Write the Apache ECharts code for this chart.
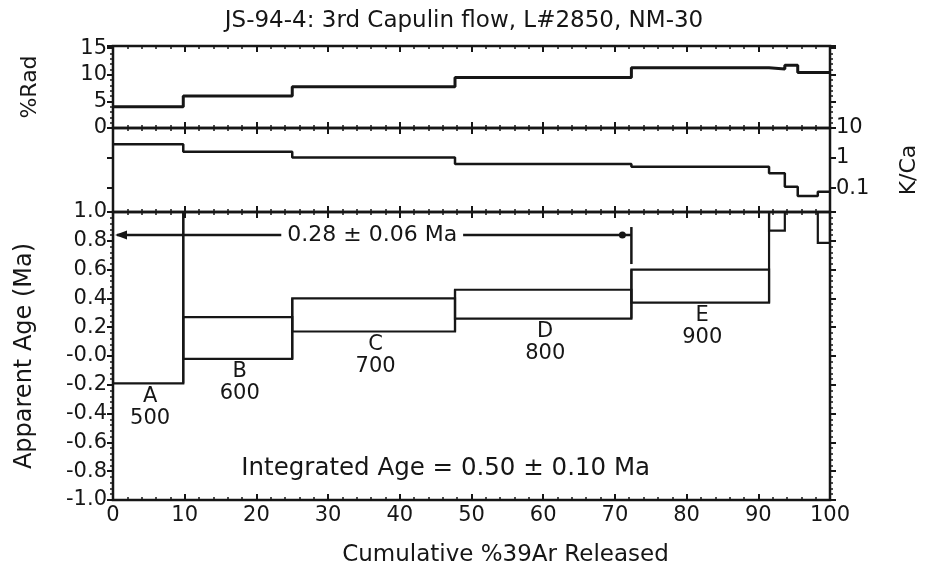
<!DOCTYPE html>
<html><head><meta charset="utf-8">
<script src="https://cdn.jsdelivr.net/npm/echarts@6/dist/echarts.min.js"></script>
<style>html,body{margin:0;padding:0;background:#fff}#c{width:928px;height:572px}</style>
</head><body><div id="c"></div>
<script>
// ---- data ----
const stepEdges   = [0, 9.8, 25.0, 47.7, 72.3, 91.5, 93.7, 95.5, 98.3, 100];
const radiogenic  = [4.0, 6.0, 7.75, 9.5, 11.3, 11.1, 11.8, 10.4, 10.4];
const kca         = [2.86, 1.62, 1.05, 0.63, 0.51, 0.31, 0.11, 0.055, 0.075];
const ageLow      = [-0.19, -0.02, 0.17, 0.26, 0.37, 0.87, null, null, 0.785];
const ageHigh     = [1.3, 0.27, 0.40, 0.46, 0.60, 1.2, null, null, 1.2];
const stepLetters = ['A', 'B', 'C', 'D', 'E', '', '', '', ''];
const stepTemps   = ['500', '600', '700', '800', '900', '', '', '', ''];
const plateauRange = [0, 72.3];
const plateauArrowAge = 0.84;
const plateauLabel = '0.28 ± 0.06 Ma';
const integratedPos = [46.4, -0.78];
const integratedLabel = 'Integrated Age = 0.50 ± 0.10 Ma';
const radTicks = [0, 5, 10, 15];
const kcaTicks = [0.1, 1, 10];
const chartTitle = 'JS-94-4: 3rd Capulin flow, L#2850, NM-30';

// ---- chart ----
const FONT = '"DejaVu Sans", sans-serif';
const INK = '#161616';
const chart = echarts.init(document.getElementById('c'), null, {renderer: 'canvas'});

function stepPoints(vals) {
  const pts = vals.map((v, i) => [stepEdges[i], v]);
  pts.push([stepEdges[stepEdges.length - 1], vals[vals.length - 1]]);
  return pts;
}
const G = {left: 113, right: 98, show: true, borderColor: INK, borderWidth: 2.5, backgroundColor: 'transparent'};

function xAx(gi, pos, labels) {
  return {
    type: 'value', gridIndex: gi, position: pos, min: 0, max: 100, interval: 10,
    axisLine: {show: false, onZero: false},
    axisTick: {show: true, inside: true, length: 6, lineStyle: {color: INK, width: 2}},
    minorTick: {show: true, splitNumber: 5, length: 3, lineStyle: {color: INK, width: 1.5}},
    splitLine: {show: false},
    axisLabel: labels ? {show: true, fontFamily: FONT, fontSize: 21, color: INK, margin: 5} : {show: false},
    name: labels ? 'Cumulative %39Ar Released' : '',
    nameLocation: 'middle', nameGap: 44,
    nameTextStyle: {fontFamily: FONT, fontSize: 23, color: INK, padding: [0, 0, 0, 68]}
  };
}
const yTick = {show: true, inside: false, length: 6, lineStyle: {color: INK, width: 2}};
const yMinor = {show: true, splitNumber: 5, length: 3, lineStyle: {color: INK, width: 1.5}};
const noLine = {show: false, onZero: false};

const option = {
  backgroundColor: '#fff',
  animation: false,
  title: {text: chartTitle, left: 'center', top: 5,
    textStyle: {fontFamily: FONT, fontSize: 23, fontWeight: 'normal', color: INK}},
  grid: [
    Object.assign({top: 46, height: 82}, G),
    Object.assign({top: 128, height: 84}, G),
    Object.assign({top: 212, height: 288}, G)
  ],
  xAxis: [xAx(0, 'bottom', false), xAx(0, 'top', false), xAx(1, 'bottom', false), xAx(1, 'top', false),
          xAx(2, 'bottom', true), xAx(2, 'top', false)],
  yAxis: [
    {type: 'value', gridIndex: 0, position: 'left', min: 0, max: 15.4, interval: 5,
     axisLine: noLine, axisTick: yTick, minorTick: yMinor, splitLine: {show: false},
     axisLabel: {customValues: radTicks, fontFamily: FONT, fontSize: 21, color: INK, margin: 6},
     name: '%Rad', nameLocation: 'middle', nameGap: 72,
     nameTextStyle: {fontFamily: FONT, fontSize: 22, color: INK}},
    {type: 'value', gridIndex: 0, position: 'right', min: 0, max: 15.4, interval: 5,
     axisLine: noLine, axisTick: yTick, minorTick: yMinor, splitLine: {show: false},
     axisLabel: {show: false}},
    {type: 'log', gridIndex: 1, position: 'left', min: 0.016, max: 10, logBase: 10,
     axisLine: noLine, axisTick: yTick, splitLine: {show: false}, axisLabel: {show: false}},
    {type: 'log', gridIndex: 1, position: 'right', min: 0.016, max: 10, logBase: 10,
     axisLine: noLine,
     axisTick: Object.assign({customValues: kcaTicks}, yTick), splitLine: {show: false},
     axisLabel: {customValues: kcaTicks, formatter: v => String(v), fontFamily: FONT, fontSize: 21, color: INK, margin: 6},
     name: 'K/Ca', nameLocation: 'middle', nameGap: 68,
     nameTextStyle: {fontFamily: FONT, fontSize: 22, color: INK}},
    {type: 'value', gridIndex: 2, position: 'left', min: -1, max: 1, interval: 0.2,
     axisLine: noLine, axisTick: yTick, minorTick: yMinor, splitLine: {show: false},
     axisLabel: {fontFamily: FONT, fontSize: 21, color: INK, margin: 6,
       formatter: v => (Math.abs(v) < 1e-9 ? '-0.0' : v.toFixed(1))},
     name: 'Apparent Age (Ma)', nameLocation: 'middle', nameGap: 76,
     nameTextStyle: {fontFamily: FONT, fontSize: 24, color: INK}},
    {type: 'value', gridIndex: 2, position: 'right', min: -1, max: 1, interval: 0.2,
     axisLine: noLine, axisTick: yTick, minorTick: yMinor, splitLine: {show: false},
     axisLabel: {show: false}}
  ],
  series: [
    {type: 'line', name: '%Rad', xAxisIndex: 0, yAxisIndex: 0, step: 'end', showSymbol: false,
     data: stepPoints(radiogenic), lineStyle: {color: INK, width: 3}},
    {type: 'line', name: 'K/Ca', xAxisIndex: 2, yAxisIndex: 2, step: 'end', showSymbol: false,
     data: stepPoints(kca), lineStyle: {color: INK, width: 2.5}},
    {type: 'custom', name: 'Age spectrum', xAxisIndex: 4, yAxisIndex: 4, clip: true,
     data: ageLow.map((lo, i) => [stepEdges[i], stepEdges[i + 1], lo == null ? NaN : lo, ageHigh[i] == null ? NaN : ageHigh[i]]),
     encode: {x: [0, 1], y: [2, 3]},
     renderItem: function (params, api) {
       const i = params.dataIndex;
       const lo = ageLow[i], hi = ageHigh[i];
       const children = [];
       if (lo == null) return {type: 'group', children: children};
       const p0 = api.coord([stepEdges[i], hi]);
       const p1 = api.coord([stepEdges[i + 1], lo]);
       children.push({type: 'rect', shape: {x: p0[0], y: p0[1], width: p1[0] - p0[0], height: p1[1] - p0[1]},
         style: {fill: 'none', stroke: INK, lineWidth: 2.2}});
       if (i + 1 < ageLow.length && ageLow[i + 1] != null) {
         const t = api.coord([stepEdges[i + 1], Math.max(hi, ageHigh[i + 1])]);
         const b = api.coord([stepEdges[i + 1], Math.min(lo, ageLow[i + 1])]);
         children.push({type: 'line', shape: {x1: t[0], y1: t[1], x2: b[0], y2: b[1]},
           style: {stroke: INK, lineWidth: 2.2}});
       }
       if (stepLetters[i]) {
         const m = api.coord([(stepEdges[i] + stepEdges[i + 1]) / 2, lo]);
         children.push({type: 'text', x: m[0] + 2, y: m[1] + 2,
           style: {text: stepLetters[i] + '\n' + stepTemps[i], textAlign: 'center', textVerticalAlign: 'top',
             font: '21px ' + FONT, fill: INK, lineHeight: 22}});
       }
       return {type: 'group', children: children};
     }},
    {type: 'custom', name: 'Plateau', xAxisIndex: 4, yAxisIndex: 4, clip: false,
     data: [[plateauRange[0], plateauRange[1], plateauArrowAge]],
     encode: {x: [0, 1], y: 2},
     renderItem: function (params, api) {
       const a = api.coord([plateauRange[0], plateauArrowAge]);
       const b = api.coord([plateauRange[1], plateauArrowAge]);
       const mx = (a[0] + b[0]) / 2;
       return {type: 'group', children: [
         {type: 'line', shape: {x1: a[0] + 4, y1: a[1], x2: b[0], y2: b[1]}, style: {stroke: INK, lineWidth: 2.5}},
         {type: 'polygon', shape: {points: [[a[0] + 2, a[1]], [a[0] + 14, a[1] - 4.5], [a[0] + 14, a[1] + 4.5]]}, style: {fill: INK}},
         {type: 'circle', shape: {cx: b[0] - 9, cy: b[1], r: 3.5}, style: {fill: INK}},
         {type: 'line', shape: {x1: b[0], y1: b[1] - 8, x2: b[0], y2: b[1] + 29}, style: {stroke: INK, lineWidth: 2.5}},
         {type: 'text', x: mx, y: a[1],
          style: {text: plateauLabel, textAlign: 'center', textVerticalAlign: 'middle', font: '22px ' + FONT,
            fill: INK, backgroundColor: '#fff', padding: [2, 6]}}
       ]};
     }},
    {type: 'custom', name: 'Integrated age', xAxisIndex: 4, yAxisIndex: 4, clip: false,
     data: [integratedPos],
     encode: {x: 0, y: 1},
     renderItem: function (params, api) {
       const p = api.coord(integratedPos);
       return {type: 'text', x: p[0], y: p[1],
         style: {text: integratedLabel, textAlign: 'center', textVerticalAlign: 'middle', font: '24.5px ' + FONT, fill: INK}};
     }}
  ]
};
chart.setOption(option);
</script>
</body></html>
